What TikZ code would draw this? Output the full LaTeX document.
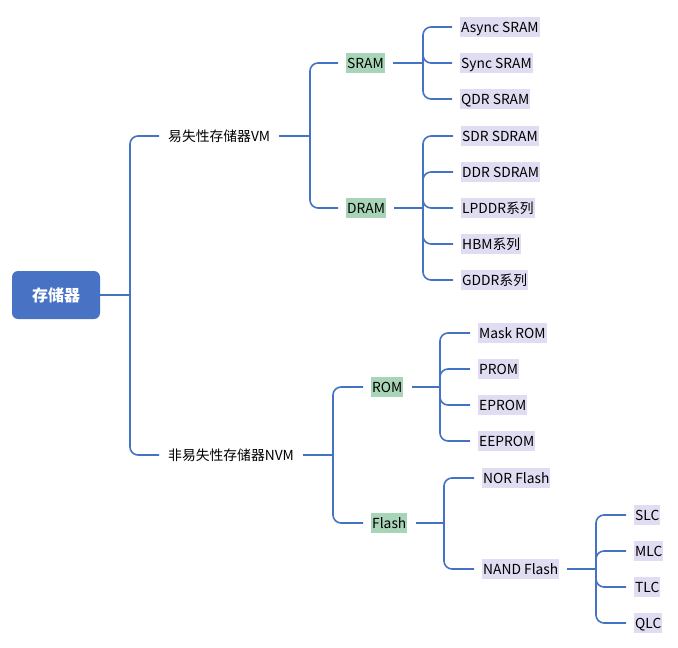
\documentclass[tikz,border=0pt]{standalone}
\usepackage{fontspec}
\setmainfont{Noto Sans CJK SC}
\definecolor{linkblue}{RGB}{68,114,196}
\definecolor{rootblue}{RGB}{72,114,196}
\definecolor{subgreen}{RGB}{168,213,183}
\definecolor{leafpurple}{RGB}{224,220,242}
\tikzset{
  rootbox/.style={fill=rootblue, rounded corners=6pt, minimum width=88pt, minimum height=48pt,
    text=white, font=\fontsize{16}{18}\selectfont\bfseries},
  item/.style={anchor=west, inner xsep=1pt, inner ysep=4pt, text height=11pt, text depth=1pt,
    font=\fontsize{13.8}{16}\selectfont},
  sub/.style={item, fill=subgreen},
  leaf/.style={item, fill=leafpurple},
  link/.style={draw=linkblue, line width=1.6pt, rounded corners=8pt},
  stub/.style={link, shorten <=8pt},
  twig/.style={link, shorten >=8pt},
}
\begin{document}
\begin{tikzpicture}[x=1pt,y=-1pt]
\useasboundingbox (0,0) rectangle (678,648);

\node[rootbox] (root) at (56,295) {存储器};
\node[item] (vm) at (167,136) {易失性存储器VM};
\node[item] (nvm) at (167,455) {非易失性存储器NVM};

\node[sub] (sram) at (346,63) {SRAM};
\node[sub] (dram) at (346,208) {DRAM};
\node[sub] (rom) at (371,387) {ROM};
\node[sub] (flash) at (371,523) {Flash};

\node[leaf] (async) at (460,27) {Async SRAM};
\node[leaf] (sync) at (460,63) {Sync SRAM};
\node[leaf] (qdr) at (460,99) {QDR SRAM};
\node[leaf] (sdr) at (461,136) {SDR SDRAM};
\node[leaf] (ddr) at (461,172) {DDR SDRAM};
\node[leaf] (lpddr) at (461,208) {LPDDR系列};
\node[leaf] (hbm) at (461,244) {HBM系列};
\node[leaf] (gddr) at (461,280) {GDDR系列};
\node[leaf] (mask) at (478,333) {Mask ROM};
\node[leaf] (prom) at (478,369) {PROM};
\node[leaf] (eprom) at (478,405) {EPROM};
\node[leaf] (eeprom) at (478,441) {EEPROM};
\node[leaf] (nor) at (482,478) {NOR Flash};
\node[leaf] (nand) at (482,569) {NAND Flash};
\node[leaf] (slc) at (634,515) {SLC};
\node[leaf] (mlc) at (634,551) {MLC};
\node[leaf] (tlc) at (634,587) {TLC};
\node[leaf] (qlc) at (634,623) {QLC};

\coordinate (j0) at (130,295);
\coordinate (jvm) at (310,136);
\coordinate (jnvm) at (333,455);
\coordinate (jsram) at (423,63);
\coordinate (jdram) at (423,208);
\coordinate (jrom) at (440,387);
\coordinate (jflash) at (444,523);
\coordinate (jnand) at (596,569);

\draw[link] (root.east) -- (j0);
\foreach \n in {vm,nvm} \draw[twig] (j0) |- (\n.west);

\draw[stub] (vm.east) -- (jvm);
\foreach \n in {sram,dram} \draw[twig] (jvm) |- (\n.west);
\draw[stub] (nvm.east) -- (jnvm);
\foreach \n in {rom,flash} \draw[twig] (jnvm) |- (\n.west);

\draw[stub] (sram.east) -- (jsram);
\foreach \n in {async,sync,qdr} \draw[twig] (jsram) |- (\n.west);
\draw[stub] (dram.east) -- (jdram);
\foreach \n in {sdr,ddr,lpddr,hbm,gddr} \draw[twig] (jdram) |- (\n.west);
\draw[stub] (rom.east) -- (jrom);
\foreach \n in {mask,prom,eprom,eeprom} \draw[twig] (jrom) |- (\n.west);
\draw[stub] (flash.east) -- (jflash);
\foreach \n in {nor,nand} \draw[twig] (jflash) |- (\n.west);
\draw[stub] (nand.east) -- (jnand);
\foreach \n in {slc,mlc,tlc,qlc} \draw[twig] (jnand) |- (\n.west);

\end{tikzpicture}
\end{document}
